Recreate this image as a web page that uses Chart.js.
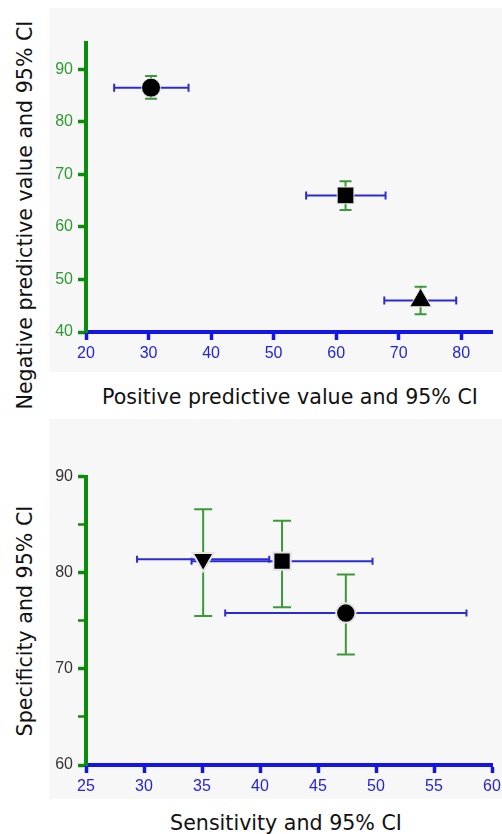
<!DOCTYPE html>
<html>
<head>
<meta charset="utf-8">
<script src="https://cdn.jsdelivr.net/npm/chart.js@4.4.1/dist/chart.umd.min.js"></script>
<style>
  body { margin: 0; background: #fff; overflow: hidden; }
  #page { position: relative; width: 502px; height: 834px; overflow: hidden; font-family: "DejaVu Sans", sans-serif; color: #111; }
  .panel { position: absolute; left: 49px; width: 453px; background: #f7f7f7; overflow: hidden; }
  .panel canvas { position: absolute; left: 0; top: 0; }
  .title { position: absolute; font-size: 20.6px; line-height: 21px; white-space: nowrap; transform: translate(-50%, -50%); }
  .title.vert { transform: translate(-50%, -50%) rotate(-90deg); }
</style>
</head>
<body>
<div id="page">
  <div class="panel" style="top: 8px; height: 364px;"><canvas id="topChart" width="480" height="364"></canvas></div>
  <div class="panel" style="top: 419px; height: 380px;"><canvas id="bottomChart" width="480" height="380"></canvas></div>
  <div class="title" style="left: 290px; top: 397px;">Positive predictive value and 95% CI</div>
  <div class="title vert" style="left: 24.5px; top: 215px;">Negative predictive value and 95% CI</div>
  <div class="title" style="left: 286px; top: 823px;">Sensitivity and 95% CI</div>
  <div class="title vert" style="left: 24.5px; top: 621px;">Specificity and 95% CI</div>
</div>
<script>
// 위쪽 그림: 양성/음성 예측도와 95% CI
const ppv = [30.4, 61.5, 73.5];
const ppvLow = [24.5, 55.2, 67.7];
const ppvHigh = [36.4, 67.9, 79.2];
const npv = [86.5, 66.0, 46.0];
const npvLow = [84.4, 63.2, 43.4];
const npvHigh = [88.7, 68.7, 48.6];
const topShapes = ["circle", "rect", "triangle"];
const topXTicks = [20, 30, 40, 50, 60, 70, 80];
const topYTicks = [40, 50, 60, 70, 80, 90];

// 아래쪽 그림: 민감도/특이도와 95% CI
const sens = [35.1, 41.9, 47.4];
const sensLow = [29.4, 34.1, 37.0];
const sensHigh = [40.8, 49.7, 57.8];
const spec = [81.4, 81.2, 75.8];
const specLow = [75.5, 76.4, 71.5];
const specHigh = [86.6, 85.4, 79.8];
const bottomShapes = ["triangle", "rect", "circle"];
const bottomXTicks = [25, 30, 35, 40, 45, 50, 55, 60];
const bottomYTicks = [60, 65, 70, 75, 80, 85, 90];
const bottomYLabels = ["60", "", "70", "", "80", "", "90"];

const axisGreen = "#0c8c0c";
const axisBlue = "#1414e6";
const barGreen = "#3a9a3a";
const barBlue = "#2b2bd6";

// 오차 막대 하나당 데이터셋 하나 (선 + 끝 캡)
function errorBars(xs, ys, low, high, horizontal, color, cap) {
    return xs.map((x, i) => ({
        data: horizontal
            ? [{ x: low[i], y: ys[i] }, { x: high[i], y: ys[i] }]
            : [{ x: x, y: low[i] }, { x: x, y: high[i] }],
        showLine: true,
        borderColor: color,
        borderWidth: 2,
        pointStyle: "line",
        pointRotation: horizontal ? 90 : 0,
        pointRadius: cap,
        pointBorderColor: color,
        pointBorderWidth: 2,
        order: 2,
    }));
}

function makeChart(id, s) {
    const markers = {
        data: s.xs.map((x, i) => ({ x: x, y: s.ys[i] })),
        showLine: false,
        pointStyle: s.shapes,
        pointRotation: s.rotation,
        pointRadius: s.radius,
        pointBackgroundColor: "#000",
        pointBorderColor: "#e4e4e4",
        pointBorderWidth: s.markerBorder,
        order: 1,
    };
    const tickFont = { family: "Liberation Sans", size: 16 };
    return new Chart(document.getElementById(id), {
        type: "scatter",
        data: {
            datasets: [markers]
                .concat(errorBars(s.xs, s.ys, s.xLow, s.xHigh, true, barBlue, s.capX))
                .concat(errorBars(s.xs, s.ys, s.yLow, s.yHigh, false, barGreen, s.capY)),
        },
        options: {
            responsive: false,
            animation: false,
            events: [],
            layout: { padding: s.padding },
            plugins: { legend: { display: false }, tooltip: { enabled: false } },
            scales: {
                x: {
                    type: "linear",
                    min: s.xMin,
                    max: s.xMax,
                    afterBuildTicks: (scale) => { scale.ticks = s.xTicks.map(v => ({ value: v })); },
                    afterFit: (scale) => { scale.height = s.xHeight; },
                    border: { color: axisBlue, width: 4 },
                    grid: { display: true, drawOnChartArea: false, tickLength: 8, tickColor: axisBlue, tickWidth: 3.5 },
                    ticks: { color: "#2424d8", font: tickFont, padding: 4, autoSkip: false, maxRotation: 0 },
                },
                y: {
                    type: "linear",
                    min: s.yMin,
                    max: s.yMax,
                    afterBuildTicks: (scale) => { scale.ticks = s.yTicks.map(v => ({ value: v })); },
                    afterFit: (scale) => { scale.width = 37; },
                    border: { color: axisGreen, width: 4 },
                    grid: {
                        display: true, drawOnChartArea: false, tickLength: 8, tickColor: axisGreen,
                        tickWidth: (c) => (s.yLabels && s.yLabels[c.index] === "" ? 2.5 : 3.5),
                    },
                    ticks: {
                        color: s.yTickColor, font: tickFont, padding: 5, autoSkip: false,
                        callback: (v, i) => (s.yLabels ? s.yLabels[i] : v),
                    },
                },
            },
        },
    });
}

makeChart("topChart", {
    xs: ppv, ys: npv, xLow: ppvLow, xHigh: ppvHigh, yLow: npvLow, yHigh: npvHigh,
    shapes: topShapes, rotation: [0, 0, 0], radius: [9.5, 11.8, 12.5], markerBorder: 1,
    capX: 4, capY: 6,
    xMin: 20, xMax: 85, yMin: 40, yMax: 95, xTicks: topXTicks, yTicks: topYTicks,
    yTickColor: "#2e9a2e", padding: { left: 0, top: 35, right: 36.5, bottom: 0 }, xHeight: 40,
});

makeChart("bottomChart", {
    xs: sens, ys: spec, xLow: sensLow, xHigh: sensHigh, yLow: specLow, yHigh: specHigh,
    shapes: bottomShapes, rotation: [180, 0, 0], radius: [12.2, 12.2, 9.7], markerBorder: 2,
    capX: 3.5, capY: 9,
    xMin: 25, xMax: 60, yMin: 60, yMax: 90, xTicks: bottomXTicks, yTicks: bottomYTicks, yLabels: bottomYLabels,
    yTickColor: "#333", padding: { left: 0, top: 57.5, right: 37, bottom: 0 }, xHeight: 34,
});
</script>
</body>
</html>
